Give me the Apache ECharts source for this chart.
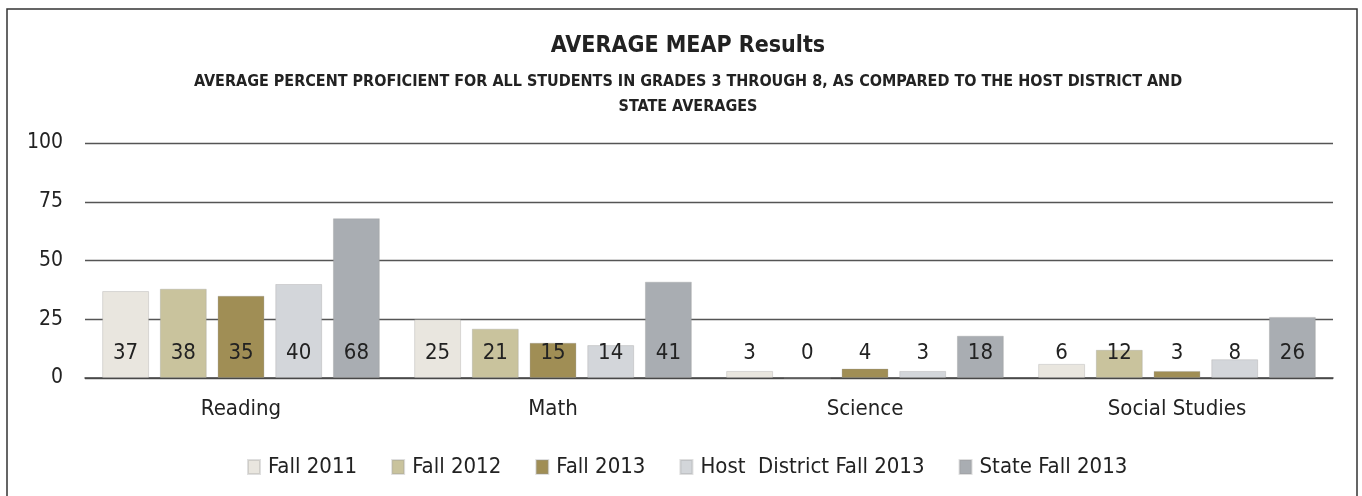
<!DOCTYPE html>
<html>
<head>
<meta charset="utf-8">
<script src="https://cdn.jsdelivr.net/npm/echarts@6/dist/echarts.min.js"></script>
<style>
  html, body { margin: 0; padding: 0; background: #fff; }
  #chart { width: 1362px; height: 496px; }
</style>
</head>
<body>
<div id="chart"></div>
<script>
// 数据
var subjects = ["Reading", "Math", "Science", "Social Studies"];
var fall2011 = [37, 25, 3, 6];
var fall2012 = [38, 21, 0, 12];
var fall2013 = [35, 15, 4, 3];
var hostFall2013 = [40, 14, 3, 8];
var stateFall2013 = [68, 41, 18, 26];
var yTicks = [0, 25, 50, 75, 100];

var seriesNames = ["Fall 2011", "Fall 2012", "Fall 2013", "Host  District Fall 2013", "State Fall 2013"];
var seriesData = [fall2011, fall2012, fall2013, hostFall2013, stateFall2013];
var colors = ["#e9e6df", "#c9c39d", "#a08e55", "#d3d6da", "#a9adb2"];

var font = "'Liberation Sans Narrow', 'DejaVu Sans Condensed', 'Liberation Sans', sans-serif";

var chart = echarts.init(document.getElementById("chart"));

chart.setOption({
  animation: false,
  title: [
    {
      text: "AVERAGE MEAP Results",
      left: 683,
      textAlign: "center",
      top: 30,
      textStyle: { fontFamily: font, fontSize: 23, fontWeight: "bold", color: "#222" }
    },
    {
      text: "AVERAGE PERCENT PROFICIENT FOR ALL STUDENTS IN GRADES 3 THROUGH 8, AS COMPARED TO THE HOST DISTRICT AND\nSTATE AVERAGES",
      left: 683,
      textAlign: "center",
      top: 64,
      textStyle: { fontFamily: font, fontSize: 16, fontWeight: "bold", color: "#222", lineHeight: 25 }
    }
  ],
  legend: {
    data: seriesNames,
    left: 242,
    top: 451,
    itemWidth: 12,
    itemHeight: 14,
    itemGap: 34,
    icon: "rect",
    textStyle: { fontFamily: font, fontSize: 22, color: "#222", padding: [0, 0, 0, 3] }
  },
  grid: { left: 85, right: 29, top: 143, bottom: 118 },
  xAxis: {
    type: "category",
    data: subjects,
    axisLine: { lineStyle: { color: "#444", width: 1.5 } },
    axisTick: { show: false },
    axisLabel: { fontFamily: font, fontSize: 22, color: "#222", margin: 20 }
  },
  yAxis: {
    type: "value",
    min: 0,
    max: 100,
    interval: 25,
    axisLine: { show: false },
    axisTick: { show: false },
    axisLabel: {
      fontFamily: font, fontSize: 21, color: "#222", margin: 22,
      formatter: function (v) { return yTicks.indexOf(v) >= 0 ? v : ""; }
    },
    splitLine: { lineStyle: { color: "#555", width: 1.3 } }
  },
  graphic: [
    {
      type: "rect",
      shape: { x: 7, y: 9, width: 1350, height: 500 },
      style: { fill: "none", stroke: "#333", lineWidth: 1.5 },
      silent: true
    }
  ],
  series: seriesData.map(function (d, i) {
    return {
      name: seriesNames[i],
      type: "bar",
      data: d,
      barGap: "23%",
      barCategoryGap: "11%",
      itemStyle: { color: colors[i], borderColor: "rgba(150,150,150,0.3)", borderWidth: 1 },
      label: {
        show: true,
        position: "insideBottom",
        distance: 14,
        fontFamily: font,
        fontSize: 22,
        color: "#222"
      }
    };
  })
});
</script>
</body>
</html>
